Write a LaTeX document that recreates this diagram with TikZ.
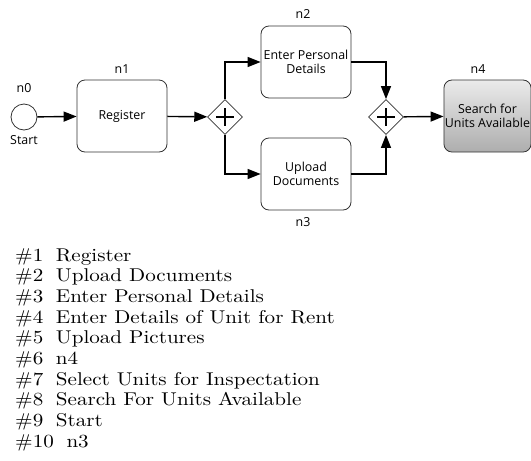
\documentclass[tikz,border=0pt]{standalone}
\usepackage{fontspec}
\usepackage{graphicx}
\newfontfamily\boxfont{Open Sans}
\newfontfamily\listfont{lmroman10-regular}[Extension=.otf]
\usetikzlibrary{arrows.meta,shapes.geometric,calc}
\tikzset{
  task/.style={draw=black!80,line width=0.8pt,rounded corners=8pt,minimum width=90pt,minimum height=72pt,align=center,font=\boxfont\fontsize{12.4}{14}\selectfont,inner sep=1pt},
  gw/.style={draw=black!80,line width=0.8pt,diamond,minimum width=35pt,minimum height=35pt,inner sep=0pt},
  flow/.style={line width=1.4pt,-{Triangle[length=13pt,width=10pt]}},
  lbl/.style={font=\boxfont\fontsize{12.4}{14}\selectfont,inner sep=0pt},
  plus/.style={line width=2.8pt}
}
\newcommand{\entry}[2]{\scalebox{1.14}[1]{\##1\hspace{0.6em}#2}}
\begin{document}
\begin{tikzpicture}[x=1pt,y=-1pt]
\useasboundingbox (0,0) rectangle (531,461);
% start
\node[circle,draw=black!80,line width=0.8pt,minimum size=26pt,inner sep=0pt] (n0) at (24,117) {};
\node[lbl] (n0l) at (24,88) {n0};
\node[lbl] (n0s) at (24,140) {Start};
% tasks
\node[task] (n1) at (122,116) {Register};
\node[lbl] (n1l) at (122,69) {n1};
\node[task] (n2) at (306,62) {Enter Personal\\Details};
\node[lbl] (n2l) at (303,14) {n2};
\node[task] (n3) at (306,174) {Upload\\Documents};
\node[lbl] (n3l) at (303,222) {n3};
\node[task,minimum width=87pt,top color=black!8,bottom color=black!32] (n4) at (487.5,116) {Search for\\Units Available};
\node[lbl] (n4l) at (478,69) {n4};
% gateways
\node[gw] (g1) at (225,117) {};
\draw[plus] ($(g1)+(-9,0)$) -- ($(g1)+(9,0)$) ($(g1)+(0,-9)$) -- ($(g1)+(0,9)$);
\node[gw] (g2) at (386,117) {};
\draw[plus] ($(g2)+(-9,0)$) -- ($(g2)+(9,0)$) ($(g2)+(0,-9)$) -- ($(g2)+(0,9)$);
% flows
\draw[flow] (n0) -- (n1);
\draw[flow] (n1) -- (g1);
\draw[flow] (g1.north) |- (n2.west);
\draw[flow] (g1.south) |- (n3.west);
\draw[flow] (n2.east) -| (g2.north);
\draw[flow] (n3.east) -| (g2.south);
\draw[flow] (g2) -- (n4);
% list
\node[anchor=north west,align=left,inner sep=0pt,font=\listfont\fontsize{18.5}{20.7}\selectfont] (list) at (15,248) {%
\entry{1}{Register}\\
\entry{2}{Upload Documents}\\
\entry{3}{Enter Personal Details}\\
\entry{4}{Enter Details of Unit for Rent}\\
\entry{5}{Upload Pictures}\\
\entry{6}{n4}\\
\entry{7}{Select Units for Inspectation}\\
\entry{8}{Search For Units Available}\\
\entry{9}{Start}\\
\entry{10}{n3}};
\end{tikzpicture}
\end{document}
